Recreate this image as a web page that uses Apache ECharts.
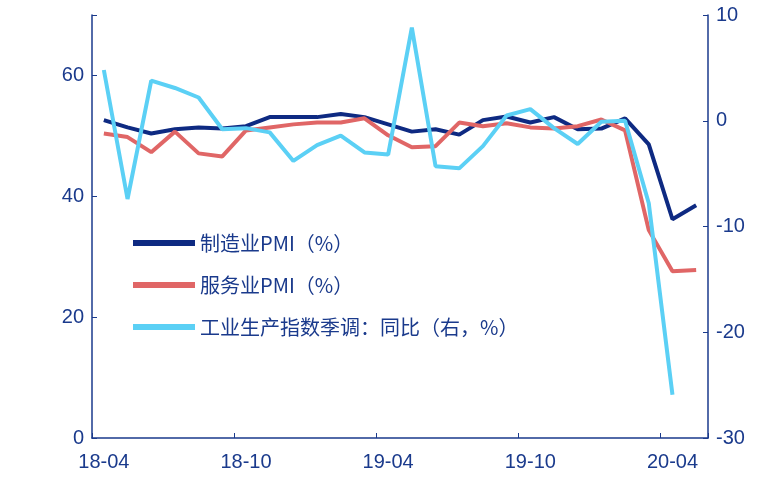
<!DOCTYPE html><html><head><meta charset="utf-8"><script src="https://cdn.jsdelivr.net/npm/echarts@6/dist/echarts.min.js"></script></head><body style="margin:0"><div id="c" style="width:778px;height:485px"></div><script>
const categories=['18-04','18-05','18-06','18-07','18-08','18-09','18-10','18-11','18-12','19-01','19-02','19-03','19-04','19-05','19-06','19-07','19-08','19-09','19-10','19-11','19-12','20-01','20-02','20-03','20-04','20-05'];
const mfg=[52.6,51.4,50.4,51.1,51.4,51.2,51.6,53.1,53.1,53.1,53.6,53.1,51.9,50.7,51.1,50.2,52.6,53.2,52.2,53.1,51.1,51.2,52.9,48.6,36.2,38.5];
const svc=[50.4,49.8,47.3,50.7,47.1,46.6,50.9,51.4,51.9,52.2,52.2,52.9,50.1,48.1,48.3,52.2,51.6,52.1,51.4,51.2,51.6,52.7,50.9,34.4,27.6,27.8];
const ind=[4.8,-7.4,3.8,3.1,2.2,-0.8,-0.7,-1.1,-3.8,-2.3,-1.4,-3.0,-3.2,8.8,-4.3,-4.5,-2.4,0.5,1.1,-0.7,-2.2,-0.1,0.0,-7.8,-25.9,null];
const navy='#1a3a8c';const font='"Noto Sans CJK SC",Arial,sans-serif';
const ax={axisLine:{show:true,lineStyle:{color:navy,width:1.5}},axisTick:{show:true,inside:true,lineStyle:{color:navy}},splitLine:{show:false},axisLabel:{color:navy,fontSize:20,fontFamily:'Arial'}};
echarts.init(document.getElementById('c')).setOption({
grid:{left:92,right:70,top:15,bottom:47},
legend:{orient:'vertical',left:128,top:228,icon:'rect',itemWidth:62,itemHeight:6,itemGap:22,textStyle:{fontSize:20,color:navy,fontFamily:font},data:['制造业PMI（%）','服务业PMI（%）','工业生产指数季调：同比（右，%）']},
xAxis:{type:'category',data:categories,...ax,axisTick:{show:true,inside:true,interval:5,lineStyle:{color:navy}},axisLabel:{...ax.axisLabel,interval:5,margin:14}},
yAxis:[{type:'value',min:0,max:70,interval:20,...ax,axisLabel:{...ax.axisLabel,formatter:v=>v>60?'':v}},{type:'value',min:-30,max:10,interval:10,...ax}],
series:[
{name:'制造业PMI（%）',type:'line',data:mfg,symbol:'none',lineStyle:{width:4,color:'#0e2a82'},itemStyle:{color:'#0e2a82'}},
{name:'服务业PMI（%）',type:'line',data:svc,symbol:'none',lineStyle:{width:4,color:'#e06666'},itemStyle:{color:'#e06666'}},
{name:'工业生产指数季调：同比（右，%）',type:'line',yAxisIndex:1,data:ind,symbol:'none',lineStyle:{width:4,color:'#5bd0f5'},itemStyle:{color:'#5bd0f5'}}]});
</script></body></html>
